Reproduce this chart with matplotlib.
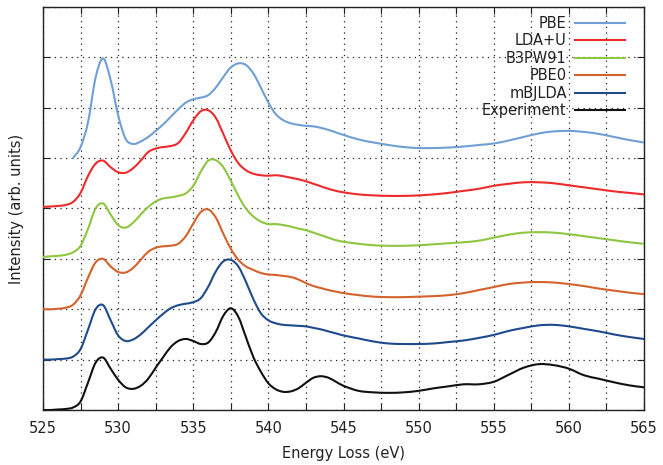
import numpy as np
import matplotlib
matplotlib.use("Agg")
import matplotlib.pyplot as plt
from matplotlib.ticker import MultipleLocator
from matplotlib.path import Path
from matplotlib.patches import PathPatch
from matplotlib.lines import Line2D

# ---------------- data ----------------
energy = [525, 525.5, 526, 526.5, 527, 527.5, 528, 528.5, 529, 529.5,
          530, 530.5, 531, 531.5, 532, 532.5, 533, 533.5, 534, 534.5,
          535, 535.5, 536, 536.5, 537, 537.5, 538, 538.5, 539, 539.5,
          540, 540.5, 541, 541.5, 542, 542.5, 543, 543.5, 544, 544.5,
          545, 546, 547, 548, 549, 550, 551, 552, 553, 554,
          555, 556, 557, 558, 559, 560, 561, 562, 563, 564, 565]

experiment = [0.00, 0.00, 0.01, 0.02, 0.05, 0.17, 0.55, 0.94, 1.04, 0.82,
              0.60, 0.45, 0.42, 0.48, 0.62, 0.84, 1.05, 1.25, 1.37, 1.41,
              1.37, 1.31, 1.34, 1.55, 1.87, 2.02, 1.85, 1.45, 1.05, 0.76,
              0.53, 0.41, 0.36, 0.37, 0.43, 0.54, 0.64, 0.67, 0.64, 0.56,
              0.48, 0.38, 0.35, 0.34, 0.35, 0.38, 0.43, 0.47, 0.51, 0.51,
              0.56, 0.70, 0.84, 0.91, 0.89, 0.82, 0.69, 0.62, 0.55, 0.49, 0.45]

mbjlda = [0.00, 0.00, 0.01, 0.02, 0.06, 0.21, 0.60, 1.00, 1.08, 0.78,
          0.48, 0.37, 0.40, 0.50, 0.64, 0.78, 0.91, 1.02, 1.08, 1.11,
          1.14, 1.22, 1.45, 1.75, 1.95, 1.98, 1.85, 1.55, 1.20, 0.92,
          0.78, 0.72, 0.69, 0.68, 0.67, 0.66, 0.63, 0.60, 0.56, 0.52,
          0.48, 0.42, 0.36, 0.32, 0.31, 0.31, 0.32, 0.35, 0.38, 0.43,
          0.49, 0.57, 0.63, 0.68, 0.69, 0.66, 0.61, 0.56, 0.50, 0.45, 0.41]

pbe0 = [0.00, 0.00, 0.01, 0.03, 0.09, 0.28, 0.63, 0.93, 1.00, 0.85,
        0.74, 0.73, 0.82, 0.98, 1.14, 1.22, 1.25, 1.26, 1.30, 1.45,
        1.70, 1.93, 1.98, 1.82, 1.50, 1.20, 0.98, 0.85, 0.78, 0.72,
        0.69, 0.68, 0.66, 0.64, 0.59, 0.52, 0.46, 0.42, 0.38, 0.35,
        0.32, 0.28, 0.25, 0.24, 0.24, 0.25, 0.26, 0.28, 0.32, 0.38,
        0.44, 0.50, 0.53, 0.54, 0.53, 0.50, 0.46, 0.41, 0.37, 0.33, 0.30]

b3pw91 = [0.04, 0.05, 0.06, 0.08, 0.13, 0.26, 0.60, 1.00, 1.10, 0.88,
          0.67, 0.62, 0.72, 0.88, 1.03, 1.14, 1.20, 1.22, 1.25, 1.30,
          1.45, 1.73, 1.95, 1.96, 1.82, 1.55, 1.25, 1.00, 0.84, 0.74,
          0.69, 0.69, 0.67, 0.64, 0.60, 0.57, 0.52, 0.47, 0.42, 0.37,
          0.34, 0.30, 0.27, 0.26, 0.26, 0.27, 0.29, 0.31, 0.33, 0.36,
          0.42, 0.48, 0.52, 0.53, 0.52, 0.49, 0.45, 0.41, 0.37, 0.33, 0.30]

ldau = [0.03, 0.04, 0.05, 0.07, 0.13, 0.31, 0.65, 0.89, 0.95, 0.82,
        0.72, 0.71, 0.80, 0.95, 1.12, 1.19, 1.22, 1.24, 1.30, 1.50,
        1.75, 1.93, 1.95, 1.80, 1.48, 1.15, 0.90, 0.76, 0.69, 0.66,
        0.65, 0.66, 0.64, 0.61, 0.58, 0.54, 0.49, 0.44, 0.39, 0.35,
        0.32, 0.28, 0.26, 0.25, 0.25, 0.26, 0.28, 0.31, 0.35, 0.39,
        0.45, 0.49, 0.52, 0.52, 0.50, 0.46, 0.42, 0.38, 0.34, 0.31, 0.28]

energy_pbe = [527, 527.5, 528, 528.5, 529, 529.5,
              530, 530.5, 531, 531.5, 532, 532.5, 533, 533.5, 534, 534.5,
              535, 535.5, 536, 536.5, 537, 537.5, 538, 538.5, 539, 539.5,
              540, 540.5, 541, 541.5, 542, 542.5, 543, 543.5, 544, 544.5,
              545, 546, 547, 548, 549, 550, 551, 552, 553, 554,
              555, 556, 557, 558, 559, 560, 561, 562, 563, 564, 565]
pbe = [0.00, 0.22, 0.72, 1.60, 1.98, 1.55,
       0.85, 0.38, 0.28, 0.33, 0.42, 0.54, 0.67, 0.82, 0.97, 1.10,
       1.17, 1.20, 1.25, 1.40, 1.61, 1.80, 1.88, 1.85, 1.68, 1.40,
       1.10, 0.87, 0.75, 0.69, 0.66, 0.64, 0.63, 0.60, 0.56, 0.51,
       0.46, 0.37, 0.31, 0.26, 0.22, 0.20, 0.20, 0.21, 0.23, 0.26,
       0.29, 0.35, 0.42, 0.49, 0.53, 0.54, 0.52, 0.48, 0.42, 0.36, 0.31]

labels = ["PBE", "LDA+U", "B3PW91", "PBE0", "mBJLDA", "Experiment"]
colors = ["#6f9fd4", "#ee2b2b", "#8dc63f", "#d4622b", "#1f4a8c", "#111111"]
STEP = 1.0  # vertical stacking step between spectra

series = [(energy_pbe, pbe), (energy, ldau), (energy, b3pw91),
          (energy, pbe0), (energy, mbjlda), (energy, experiment)]


def smooth_path(x, y):
    """Smooth path through the data points (cubic Hermite segments drawn as Bezier curves)."""
    x = np.asarray(x, float)
    y = np.asarray(y, float)
    m = np.empty_like(y)
    m[1:-1] = (y[2:] - y[:-2]) / (x[2:] - x[:-2])
    m[0] = (y[1] - y[0]) / (x[1] - x[0])
    m[-1] = (y[-1] - y[-2]) / (x[-1] - x[-2])
    verts = [(x[0], y[0])]
    codes = [Path.MOVETO]
    for i in range(len(x) - 1):
        h = x[i + 1] - x[i]
        verts += [(x[i] + h / 3, y[i] + m[i] * h / 3),
                  (x[i + 1] - h / 3, y[i + 1] - m[i + 1] * h / 3),
                  (x[i + 1], y[i + 1])]
        codes += [Path.CURVE4] * 3
    return Path(verts, codes)


# ---------------- plot ----------------
fig = plt.figure(figsize=(6.63, 4.65), dpi=100)
ax = fig.add_axes([0.0649, 0.1183, 0.9064, 0.8667])

n = len(series)
handles = []
for i, ((x, y), lab, c) in enumerate(zip(series, labels, colors)):
    shift = (n - 1 - i) * STEP
    patch = PathPatch(smooth_path(x, np.asarray(y) + shift), fill=False,
                      edgecolor=c, lw=1.5, capstyle="round", joinstyle="round",
                      zorder=3, clip_on=True)
    ax.add_patch(patch)
    handles.append(Line2D([], [], color=c, lw=1.5, label=lab))

ax.set_xlim(525, 565)
ax.set_ylim(0, 8)
ax.set_xticks(np.arange(525, 565.1, 2.5))
ax.set_xticklabels([f"{int(v)}" if v % 5 == 0 else "" for v in np.arange(525, 565.1, 2.5)])
ax.yaxis.set_major_locator(MultipleLocator(1))
ax.set_yticklabels([])
ax.tick_params(direction="in", top=True, right=True, length=5, width=0.8,
               labelsize=10.5, colors="#222222", pad=8)
ax.grid(True, color="#222222", linestyle=(0, (1, 3.5)), linewidth=0.9)
for s in ax.spines.values():
    s.set_linewidth(1.0)
    s.set_color("#222222")

ax.set_xlabel("Energy Loss (eV)", fontsize=10.5, color="#222222", labelpad=7)
ax.set_ylabel("Intensity (arb. units)", fontsize=10.5, color="#222222", labelpad=6)

leg = ax.legend(handles=handles, loc="upper right", frameon=False, markerfirst=False,
                fontsize=10.5, handlelength=3.4, labelspacing=0.17,
                borderaxespad=0.9, handletextpad=0.6, bbox_to_anchor=(1.0, 1.025))
for t in leg.get_texts():
    t.set_color("#222222")

fig.savefig("out.png", dpi=100)
